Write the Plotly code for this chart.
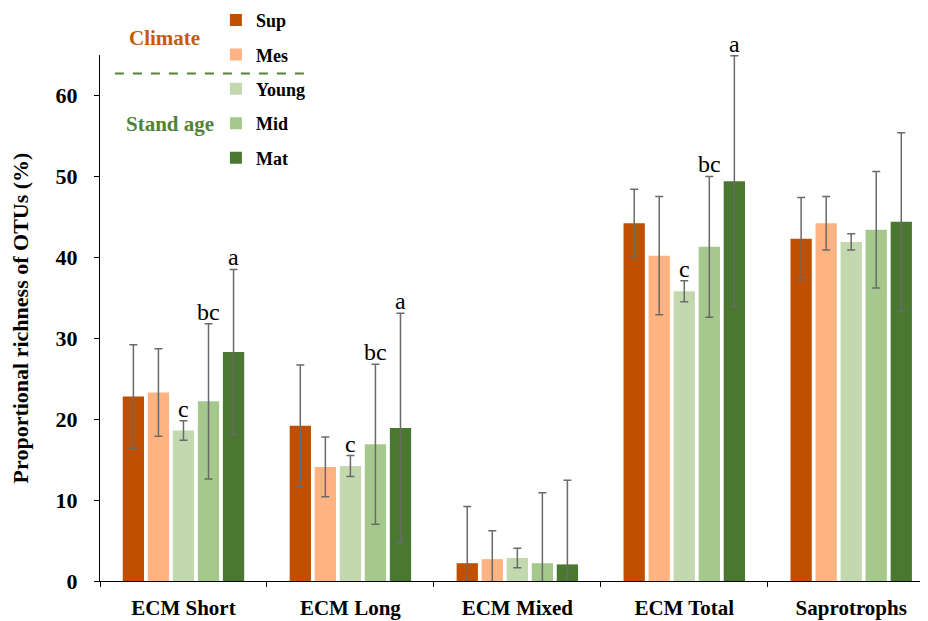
import plotly.graph_objects as go

categories = ["ECM Short", "ECM Long", "ECM Mixed", "ECM Total", "Saprotrophs"]
series_names = ["Sup", "Mes", "Young", "Mid", "Mat"]
sup = [22.8, 19.2, 2.2, 44.2, 42.3]
sup_err = [6.4, 7.5, 7.0, 4.2, 5.1]
mes = [23.3, 14.1, 2.7, 40.2, 44.2]
mes_err = [5.4, 3.7, 3.5, 7.3, 3.3]
young = [18.6, 14.2, 2.85, 35.8, 41.9]
young_err = [1.2, 1.3, 1.2, 1.3, 1.0]
mid = [22.2, 16.9, 2.2, 41.3, 43.4]
mid_err = [9.6, 9.9, 8.7, 8.7, 7.2]
mat = [28.3, 18.9, 2.05, 49.4, 44.4]
mat_err = [10.2, 14.2, 10.4, 15.5, 11.0]
# significance letters for (Young, Mid, Mat) per category; "" = none
young_sig = ["c", "c", "", "c", ""]
mid_sig = ["bc", "bc", "", "bc", ""]
mat_sig = ["a", "a", "", "a", ""]
y_ticks = [0, 10, 20, 30, 40, 50, 60]

colors = ["#C05000", "#FFB380", "#C4D8B0", "#A5C88C", "#4B7830"]
values = [sup, mes, young, mid, mat]
errors = [sup_err, mes_err, young_err, mid_err, mat_err]

SERIF = "Liberation Serif"
bargap = 0.25

fig = go.Figure()
for i, (name, vals, errs, col) in enumerate(zip(series_names, values, errors, colors)):
    fig.add_trace(go.Bar(
        x=categories, y=vals, name=name, legendgroup=name,
        marker=dict(color=col, line=dict(width=0)),
        error_y=dict(type="data", array=errs, color="#6a6a6a", thickness=1.5, width=4),
    ))

annotations = []
slot = (1 - bargap) / 5
for idx_series, sigs, vals, errs in [(2, young_sig, young, young_err), (3, mid_sig, mid, mid_err), (4, mat_sig, mat, mat_err)]:
    for ci, s in enumerate(sigs):
        if s:
            annotations.append(dict(
                x=ci + (idx_series - 2) * slot, y=vals[ci] + errs[ci], xref="x", yref="y",
                text=s, showarrow=False, xanchor="center", yanchor="bottom", yshift=-3,
                font=dict(family=SERIF, size=24, color="black"),
            ))

annotations.append(dict(x=0.0785, y=1.033, xref="paper", yref="paper", text="<b>Climate</b>",
                        xanchor="center", yanchor="middle", showarrow=False,
                        font=dict(family=SERIF, size=21, color="#C55A11")))
annotations.append(dict(x=0.0845, y=0.869, xref="paper", yref="paper", text="<b>Stand age</b>",
                        xanchor="center", yanchor="middle", showarrow=False,
                        font=dict(family=SERIF, size=21, color="#548235")))

# The page body has an 8px margin, so the figure is 8px smaller and margins 8px less.
fig.update_layout(
    width=920, height=613,
    margin=dict(l=92, r=0, t=47, b=40, autoexpand=False),
    paper_bgcolor="white", plot_bgcolor="white",
    barmode="group", bargap=bargap, bargroupgap=0.15,
    font=dict(family=SERIF, color="black"),
    annotations=annotations,
    shapes=[dict(type="line", xref="paper", yref="paper", x0=0.018, x1=0.257, y0=0.965, y1=0.965,
                 line=dict(color="#548235", width=2, dash="dash"))],
    legend=dict(x=0.14, y=1.101, xanchor="left", yanchor="top", bgcolor="rgba(0,0,0,0)",
                font=dict(family=SERIF, size=18, color="black", weight="bold"), tracegroupgap=8,
                traceorder="grouped"),
    xaxis=dict(range=[-0.5, 4.46], showline=True, linecolor="black", linewidth=1,
               ticks="outside", tickson="boundaries", ticklen=5, tickcolor="black",
               ticklabelstandoff=8, automargin=False,
               tickfont=dict(family=SERIF, size=21, color="black", weight="bold")),
    yaxis=dict(range=[0, 65], tickvals=y_ticks, showline=True, linecolor="black", linewidth=1,
               ticks="outside", ticklen=5, tickcolor="black", showgrid=False, zeroline=False,
               ticklabelstandoff=12, automargin=False,
               tickfont=dict(family=SERIF, size=22, color="black", weight="bold"),
               title=dict(text="<b>Proportional richness of OTUs (%)</b>", standoff=22,
                          font=dict(family=SERIF, size=22, color="black"))),
)

fig.write_html("out.html")
